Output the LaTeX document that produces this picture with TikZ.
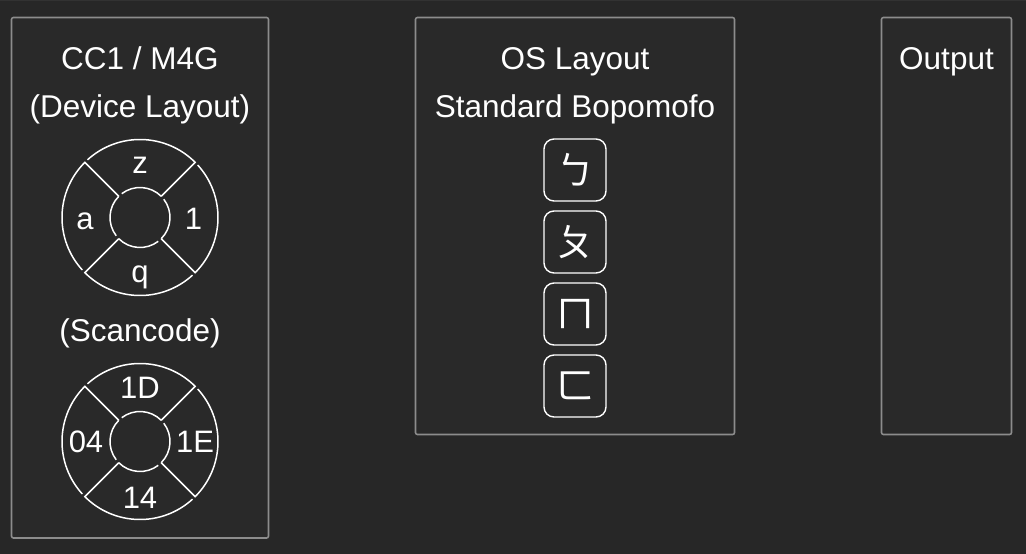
\documentclass[tikz,border=0pt]{standalone}
\usepackage{fontspec}
\setmainfont{Liberation Sans}
\newfontfamily\cjk{Noto Sans CJK TC}
\definecolor{bg}{HTML}{272727}
\definecolor{panel}{HTML}{292929}
\definecolor{frame}{HTML}{8C8C8C}
\definecolor{topline}{HTML}{323232}
\begin{document}
\begin{tikzpicture}[x=1pt,y=-1pt,
  panelbox/.style={draw=frame, fill=panel, line width=1.6pt, rounded corners=2pt},
  heading/.style={text=white, inner sep=0pt, anchor=base, font=\fontsize{31.5}{37}\selectfont},
  seglabel/.style={text=white, inner sep=0pt, anchor=base, font=\fontsize{31}{36}\selectfont},
  ring/.style={draw=white, line width=1.5pt},
  keybox/.style={draw=white, line width=1.4pt, rounded corners=10pt, minimum width=62pt, minimum height=62pt, inner sep=0pt, text=white, font=\cjk\fontsize{38}{40}\selectfont}]
\useasboundingbox (0,0) rectangle (1026,554);
\fill[bg] (0,0) rectangle (1026,554);
\fill[topline] (0,0) rectangle (1026,1.2);
% panels
\draw[panelbox] (11.5,17.5) rectangle (268.5,538) coordinate (p1);
\draw[panelbox] (415.5,17.5) rectangle (734.5,434.5) coordinate (p2);
\draw[panelbox] (881.5,17.5) rectangle (1011.5,434.5) coordinate (p3);
% panel 1
\node[heading] (h1a) at (140,69) {CC1 / M4G};
\node[heading] (h1b) at (140,117) {(Device Layout)};
\node[heading] (h1c) at (140,341) {(Scancode)};
\foreach \cy/\nm in {217.5/one,441.5/two}{
  \begin{scope}[shift={(140,\cy)}]
    \coordinate (c\nm) at (0,0);
    \foreach \a in {45,135,225,315}{
      \draw[ring] (\a:30pt) -- (\a:78pt) arc[start angle=\a, delta angle=87.3, radius=78pt];
      \draw[ring] (\a:30pt) arc[start angle=\a, delta angle=82.5, radius=30pt];
    }
  \end{scope}
}
\node[seglabel] (kz) at (140,173) {z};
\node[seglabel] (ka) at (85,229) {a};
\node[seglabel] (k1) at (193.5,229) {1};
\node[seglabel] (kq) at (140,282) {q};
\node[seglabel] (s1d) at (140,398) {1D};
\node[seglabel] (s04) at (86,452) {04};
\node[seglabel] (s1e) at (195,452) {1E};
\node[seglabel] (s14) at (140,508) {14};
% panel 2
\node[heading] (h2a) at (575,69) {OS Layout};
\node[heading] (h2b) at (575,117) {Standard Bopomofo};
\node[keybox] (b1) at (575,170) {ㄅ};
\node[keybox] (b2) at (575,242) {ㄆ};
\node[keybox] (b3) at (575,314) {ㄇ};
\node[keybox] (b4) at (575,386) {ㄈ};
% panel 3
\node[heading] (h3) at (946.5,69) {Output};
\end{tikzpicture}
\end{document}
